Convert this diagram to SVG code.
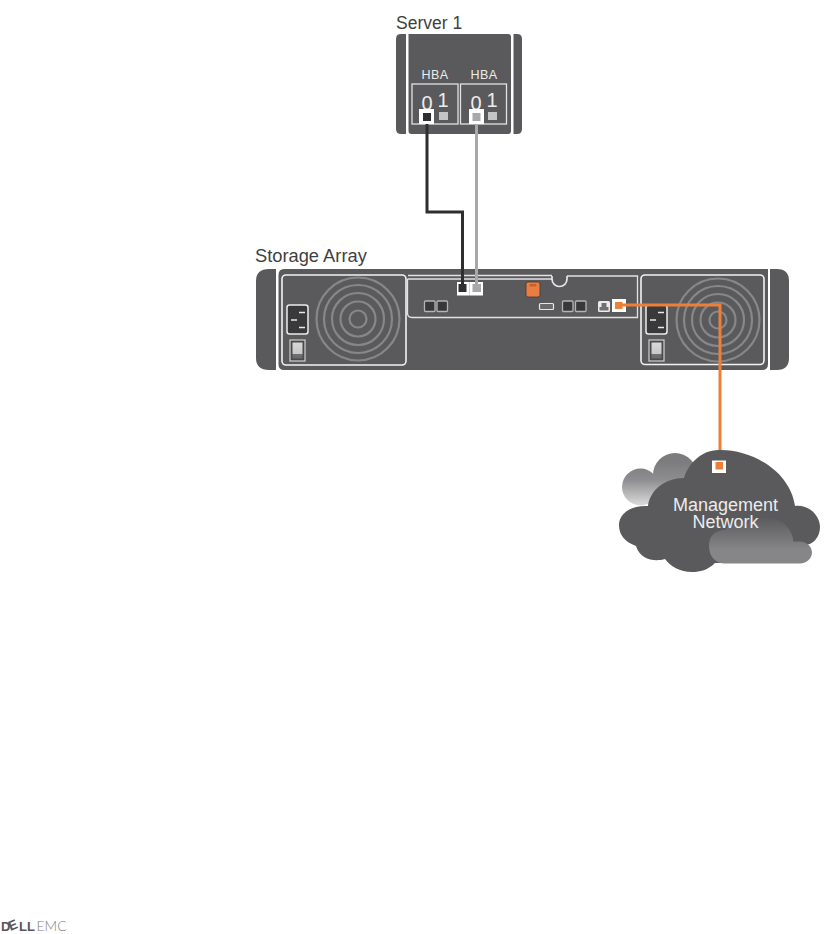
<svg xmlns="http://www.w3.org/2000/svg" width="840" height="934" viewBox="0 0 840 934">
<style>
.lbl{font-family:"Liberation Sans",Arial,sans-serif;fill:#3f3f41}
.hba{font-family:"Liberation Sans",Arial,sans-serif;fill:#ececec;text-anchor:middle}
.body{fill:#5a5a5c}
.ln{fill:none;stroke:#e2e2e2;stroke-width:1.3}
.wl{fill:none;stroke:#f2f2f2;stroke-width:1.6}
.ring{fill:none;stroke:#878789;stroke-width:2.2}
.pt{fill:#fff}
.sm{fill:#38383a;stroke:#b4b4b6;stroke-width:1.3}
.sock{fill:#39393b;stroke:#ececec;stroke-width:1.5}
.tick{stroke:#e8e8e8;stroke-width:1.3}
.cable{fill:none;stroke-width:3}
</style>
<defs>
<linearGradient id="bk" gradientUnits="userSpaceOnUse" x1="0" y1="462" x2="0" y2="507"><stop offset="0" stop-color="#7c7c7e"/><stop offset="0.4" stop-color="#8e8e90"/><stop offset="1" stop-color="#e0e0e0"/></linearGradient>
<linearGradient id="fr" gradientUnits="userSpaceOnUse" x1="0" y1="520" x2="0" y2="550"><stop offset="0" stop-color="#5e5e60"/><stop offset="1" stop-color="#868688"/></linearGradient>
<linearGradient id="sw" x1="0" y1="0" x2="0" y2="1"><stop offset="0" stop-color="#d8d8d8"/><stop offset="0.7" stop-color="#c8c8c8"/><stop offset="0.71" stop-color="#707072"/><stop offset="1" stop-color="#6a6a6c"/></linearGradient>
<g id="ringset"><circle class="ring" r="41.5"/><circle class="ring" r="34"/><circle class="ring" r="26"/><circle class="ring" r="17.5"/><circle class="ring" r="8.5"/></g>
<g id="psuparts"><rect class="sock" x="0" y="0" width="21" height="29" rx="2.5"/><path class="tick" d="M12 7.5h6M4 15h6M12 22.5h6"/><rect x="3" y="35" width="15" height="21" fill="#4a4a4c" stroke="#d0d0d0" stroke-width="1.2"/><rect x="5.5" y="37.5" width="10" height="16" fill="url(#sw)"/></g>
</defs>
<rect width="840" height="934" fill="#fff"/>
<g id="server-1">
<text class="lbl" x="396" y="29" font-size="17.5">Server 1</text>
<path class="body" d="M406 34V134H401Q396 134 396 129V39Q396 34 401 34ZM408.500 34H508Q511 34 511 37V131Q511 134 508 134H411.500Q408.500 134 408.500 131ZM513.500 34H517Q522 34 522 39V129Q522 134 517 134H513.500Z"/>
<text class="hba" x="435" y="79" font-size="12.500" letter-spacing="0.4">HBA</text>
<text class="hba" x="484" y="79" font-size="12.500" letter-spacing="0.4">HBA</text>
<rect class="ln" x="412" y="84" width="46" height="40"/>
<rect class="ln" x="460.500" y="84" width="46" height="40"/>
<text class="hba" x="427" y="110" font-size="20">0</text>
<text class="hba" x="443" y="107" font-size="20">1</text>
<text class="hba" x="476" y="110" font-size="20">0</text>
<text class="hba" x="492" y="107" font-size="20">1</text>
<rect x="439" y="112" width="9" height="8" fill="#c4c4c4"/>
<rect x="488" y="112" width="9" height="8" fill="#c4c4c4"/>
</g>
<g id="storage-array">
<text class="lbl" x="255" y="262" font-size="18.300">Storage Array</text>
<path class="body" d="M276 269V370H269Q256 370 256 358V281Q256 269 269 269ZM278.500 275Q278.500 269 284 269H768V364Q768 370 762 370H284Q278.500 370 278.500 364ZM770 269H777Q789 269 789 281V358Q789 370 777 370H770Z"/>
<g id="psu-left">
<rect class="wl" x="282" y="275" width="124" height="90" rx="4"/>
<use href="#ringset" x="358" y="319"/>
<use href="#psuparts" x="287" y="305"/>
</g>
<g id="psu-right">
<rect class="wl" x="641" y="275" width="123" height="89.500" rx="4"/>
<use href="#ringset" x="718" y="320"/>
<use href="#psuparts" x="646" y="305"/>
</g>
<g id="controller">
<path class="ln" d="M408 275.500H552M407.500 279H552M567 276H637.500V317.500H412Q407.500 317.500 407.500 313V279"/>
<path d="M552 276V279A7.500 7.500 0 0 0 567 279V276" fill="#5a5a5c" stroke="#e6e6e6" stroke-width="1.700"/>
<rect class="sm" x="424.500" y="301" width="10.500" height="10.500" rx="1"/>
<rect class="sm" x="437" y="301" width="10.500" height="10.500" rx="1"/>
<rect x="526" y="282" width="14" height="15" rx="2" fill="#ea7d40" stroke="#3a3a3c" stroke-width="0.800"/>
<rect x="529.500" y="284" width="7" height="2.500" rx="1" fill="#c8602c"/>
<rect x="539.500" y="303.500" width="14" height="6" rx="1" fill="#6a6a6c" stroke="#e6e6e6" stroke-width="1.200"/>
<rect class="sm" x="562.500" y="301" width="10.500" height="10.500" rx="1"/>
<rect class="sm" x="575.500" y="301" width="10.500" height="10.500" rx="1"/>
<rect x="598" y="301" width="12" height="11" rx="1.500" fill="#ececec"/>
<path d="M599.500 310.500V307L601.500 307V303H606.500V307L608.500 307V310.500Z" fill="#707072"/>
<rect class="pt" x="457" y="282" width="12.500" height="13.500"/>
<rect class="pt" x="469.500" y="282" width="13.500" height="13.500"/>
<rect class="pt" x="612" y="299" width="14" height="13"/>
</g>
</g>
<g id="connectors">
<path class="cable" stroke="#2e2e30" d="M427 118V212H462.500V288"/>
<path class="cable" stroke="#a8a8aa" d="M476.500 118V288"/>
<path class="cable" stroke="#ec8038" d="M620 305H720V466"/>
</g>
<g id="server-ports">
<rect class="pt" x="419" y="109" width="15" height="15"/><rect x="423" y="113" width="8" height="8" fill="#2e2e30"/>
<rect class="pt" x="469" y="109" width="15" height="15"/><rect x="472.500" y="113" width="8" height="8" fill="#a8a8aa"/>
</g>
<g id="array-port-fills">
<rect x="458.500" y="284" width="8" height="8" fill="#2e2e30"/>
<rect x="472.500" y="284" width="8.500" height="8" fill="#a8a8aa"/>
<rect x="615" y="302" width="7.500" height="7" fill="#ec8038"/>
</g>
<g id="management-network">
<circle cx="640.500" cy="487" r="18.500" fill="url(#bk)"/>
<circle cx="675" cy="475" r="22" fill="url(#bk)"/>
<path fill="#5a5a5c" d="M719 450C750 449 790 470 795 506C808 504 820 515 820 527C820 538 812 545 805 545L800 563H715C708 570 700 572 692 572C680 572 670 566 665 559C655 562 640 560 636 546C625 542 619 535 619 525C619 513 632 505 648 506C650 490 665 478 684 478C688 465 700 450 719 450Z"/>
<path fill="url(#fr)" d="M709 546C709 535 716 530 725 530C735 518 755 518 770 518C785 520 792 530 793.500 541.500H800C807 541.500 812 547 812 552.500C812 558 807 563.500 800 563.500H725C715 563.500 709 556 709 546Z"/>
<rect x="712" y="460.500" width="14" height="12.500" fill="#fff"/>
<rect x="715.500" y="462" width="7.500" height="7.500" fill="#ec8038"/>
<text class="hba" x="725.500" y="510.500" font-size="18">Management</text>
<text class="hba" x="725.500" y="527.500" font-size="18">Network</text>
</g>
<g id="logo">
<text x="1" y="931" font-family="'Liberation Sans',sans-serif" font-size="13.500" font-weight="700" fill="#55565a" textLength="34" lengthAdjust="spacingAndGlyphs" rotate="0 -22 0 0">DELL</text>
<text x="36.500" y="931" font-family="Lato,'Liberation Sans',sans-serif" font-size="13.500" font-weight="300" fill="#808084" textLength="30" lengthAdjust="spacingAndGlyphs">EMC</text>
</g>
</svg>
